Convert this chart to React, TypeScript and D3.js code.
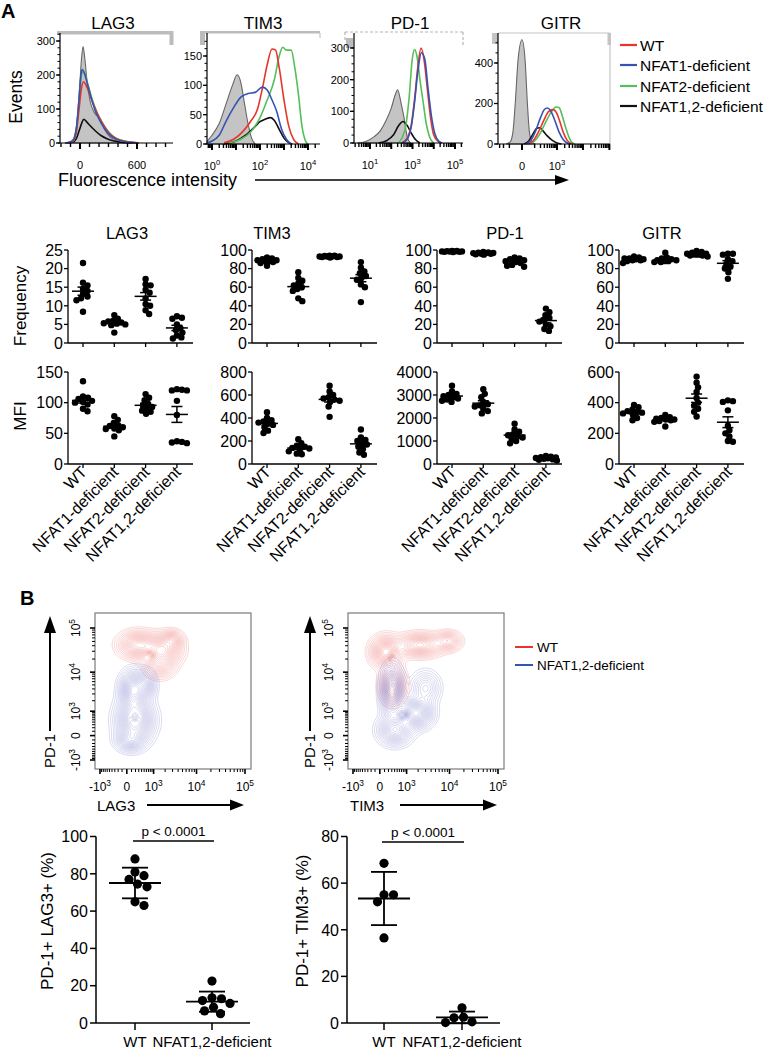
import React from 'react';
import * as d3 from 'd3';

const FONT = '"Liberation Sans", Arial, Helvetica, sans-serif';

// ---------------- categories ----------------
const GROUPS = ['WT', 'NFAT1-deficient', 'NFAT2-deficient', 'NFAT1,2-deficient'];
const GROUP_COLORS = ['#e8352b', '#3553b3', '#55bf5a', '#111111'];
const MARKERS = ['LAG3', 'TIM3', 'PD-1', 'GITR'];
const GROUPS_B = ['WT', 'NFAT1,2-deficient'];

// ---------------- Panel A histograms: [x, events] ----------------
// order: isotype(grey), WT, NFAT1, NFAT2, NFAT1,2
const LAG3_HIST = [
  [[-160, 0], [-110, 3], [-70, 12], [-35, 55], [-5, 160], [15, 245], [32, 284], [50, 250], [75, 180], [105, 125], [150, 90], [210, 72], [260, 40], [316, 18], [400, 5], [480, 0]],
  [[-150, 0], [-80, 4], [-40, 30], [-10, 100], [15, 160], [35, 180], [60, 172], [90, 152], [130, 122], [180, 88], [240, 56], [310, 28], [390, 12], [490, 4], [620, 0]],
  [[-150, 0], [-80, 5], [-40, 40], [-10, 130], [10, 200], [25, 216], [45, 206], [70, 182], [110, 140], [160, 95], [220, 60], [290, 30], [370, 12], [470, 4], [600, 0]],
  [[-150, 0], [-80, 4], [-40, 35], [-10, 120], [10, 190], [30, 210], [50, 205], [80, 176], [120, 136], [170, 96], [230, 62], [300, 33], [380, 14], [480, 5], [620, 0]],
  [[-150, 0], [-80, 2], [-40, 12], [-10, 35], [20, 60], [40, 70], [70, 62], [110, 50], [160, 36], [220, 22], [290, 12], [370, 5], [470, 1], [560, 0]],
];
// x in log10 units
const TIM3_HIST = [
  [[-0.2, 5], [0, 15], [0.3, 35], [0.6, 70], [0.85, 100], [1.05, 118], [1.2, 105], [1.35, 70], [1.5, 35], [1.65, 10], [1.8, 0]],
  [[0.5, 2], [0.9, 8], [1.3, 22], [1.6, 38], [1.9, 60], [2.1, 95], [2.3, 135], [2.5, 162], [2.65, 160], [2.8, 130], [3.0, 75], [3.2, 30], [3.4, 8], [3.6, 0]],
  [[-0.2, 2], [0, 5], [0.3, 15], [0.6, 40], [0.9, 62], [1.2, 80], [1.5, 86], [1.8, 88], [2.1, 97], [2.3, 92], [2.5, 75], [2.7, 55], [2.9, 25], [3.1, 8], [3.3, 0]],
  [[0.7, 2], [1.2, 8], [1.6, 20], [2.0, 45], [2.3, 75], [2.6, 110], [2.8, 150], [2.95, 165], [3.1, 160], [3.3, 160], [3.45, 130], [3.6, 85], [3.75, 30], [3.9, 5], [4.0, 0]],
  [[0.5, 0], [1.0, 5], [1.4, 15], [1.8, 30], [2.0, 38], [2.2, 42], [2.45, 45], [2.6, 40], [2.8, 25], [3.0, 10], [3.2, 2], [3.35, 0]],
];
const PD1_HIST = [
  [[0.4, 0], [0.8, 5], [1.2, 20], [1.5, 40], [1.75, 70], [2.0, 110], [2.2, 155], [2.3, 168], [2.45, 130], [2.6, 80], [2.75, 20], [2.9, 0]],
  [[2.5, 0], [2.75, 15], [2.95, 60], [3.1, 140], [3.25, 240], [3.4, 300], [3.55, 260], [3.7, 170], [3.85, 80], [4.0, 25], [4.2, 5], [4.35, 0]],
  [[2.5, 0], [2.75, 12], [2.95, 55], [3.1, 130], [3.25, 225], [3.42, 285], [3.58, 265], [3.72, 180], [3.88, 90], [4.05, 30], [4.25, 5], [4.4, 0]],
  [[2.3, 0], [2.5, 15], [2.7, 60], [2.85, 150], [2.98, 260], [3.1, 295], [3.22, 270], [3.35, 200], [3.5, 130], [3.65, 60], [3.8, 20], [4.0, 0]],
  [[1.4, 0], [1.8, 8], [2.1, 25], [2.35, 55], [2.55, 68], [2.75, 55], [2.95, 30], [3.15, 10], [3.35, 0]],
];
const GITR_HIST = [
  [[-150, 0], [-90, 10], [-60, 60], [-40, 200], [-20, 420], [0, 515], [15, 420], [30, 200], [45, 60], [70, 10], [110, 0]],
  [[30, 0], [80, 15], [160, 60], [280, 115], [450, 160], [700, 170], [950, 155], [1300, 110], [1800, 55], [2500, 18], [3500, 3], [4200, 0]],
  [[20, 0], [60, 20], [120, 70], [200, 130], [300, 170], [400, 178], [550, 165], [800, 120], [1200, 60], [1800, 20], [2800, 3], [3500, 0]],
  [[40, 0], [100, 15], [200, 55], [350, 110], [600, 160], [900, 183], [1200, 180], [1600, 140], [2200, 80], [3000, 30], [4000, 5], [5000, 0]],
  [[10, 0], [40, 15], [80, 50], [130, 78], [180, 80], [260, 65], [400, 40], [650, 18], [1000, 5], [1500, 0]],
];

// ---------------- Panel A dot plots ----------------
const LAG3_FREQ = [
  [21.5, 16.2, 15.5, 14.5, 14, 13.2, 12.5, 12, 11.5, 8.4],
  [7.5, 6.5, 6, 5.8, 5.5, 5.3, 5.2, 5, 4.8, 2.8],
  [17.2, 15.8, 15.5, 14.3, 13.5, 12, 10.5, 10, 8.8, 7.8],
  [7.2, 6.8, 6.5, 5, 4, 3.5, 2.8, 2, 1.5, 1.2],
];
const TIM3_FREQ = [
  [92, 91, 90, 89, 89, 88, 88, 87, 86, 83],
  [76, 70, 67, 64, 62, 60, 58, 56, 48, 45],
  [94, 94, 93.5, 93, 93, 93, 93, 92.5, 92.5, 92],
  [87, 81, 77, 75, 72, 70, 68, 63, 60, 44],
];
const PD1_FREQ = [
  [99, 99, 98.8, 98.5, 98.5, 98.5, 98.3, 98, 98, 97.8],
  [98, 97.5, 97, 96.8, 96.5, 96.5, 96, 96, 95.5, 95],
  [92, 91, 90, 89, 88, 87, 86, 84, 83, 82],
  [37, 33, 30, 27, 25, 23, 20, 18, 15, 13],
];
const GITR_FREQ = [
  [93, 92, 91, 91, 90, 90, 89, 89, 88, 86],
  [97, 92, 91, 90, 89, 89, 88, 88, 87, 87],
  [99, 98, 97, 96, 96, 95, 95, 94, 94, 93],
  [96, 96, 95, 90, 88, 85, 82, 80, 76, 69],
];
const LAG3_MFI = [
  [135, 110, 108, 106, 103, 101, 100, 97, 90, 86],
  [78, 72, 67, 63, 62, 60, 58, 57, 55, 45],
  [114, 108, 104, 98, 96, 93, 90, 87, 85, 82],
  [122, 121, 120, 120, 103, 80, 37, 36, 35, 34],
];
const TIM3_MFI = [
  [450, 400, 380, 370, 360, 350, 340, 320, 290, 270],
  [215, 180, 160, 150, 140, 135, 125, 110, 90, 85],
  [680, 630, 600, 580, 570, 560, 550, 540, 500, 410],
  [300, 230, 210, 200, 180, 170, 150, 130, 100, 80],
];
const PD1_MFI = [
  [3400, 3150, 3050, 3000, 2950, 2900, 2850, 2800, 2750, 2700],
  [3250, 3050, 2900, 2700, 2600, 2550, 2500, 2400, 2300, 2200],
  [1750, 1500, 1400, 1300, 1250, 1200, 1150, 1100, 1000, 900],
  [350, 320, 300, 280, 260, 250, 230, 200, 180, 150],
];
const GITR_MFI = [
  [385, 370, 355, 345, 340, 335, 330, 320, 300, 285],
  [320, 305, 300, 295, 290, 290, 285, 280, 275, 245],
  [570, 530, 500, 470, 430, 400, 380, 360, 340, 310],
  [415, 410, 405, 350, 220, 250, 200, 180, 150, 145],
];
const FREQ_TICKS = [[0, 5, 10, 15, 20, 25], [0, 20, 40, 60, 80, 100], [0, 20, 40, 60, 80, 100], [0, 20, 40, 60, 80, 100]];
const MFI_TICKS = [[0, 50, 100, 150], [0, 200, 400, 600, 800], [0, 1000, 2000, 3000, 4000], [0, 200, 400, 600]];

// ---------------- Panel B flow populations: [marker value, PD-1 value, spreadX, spreadY (symlog units), weight] ----------------
const LAG3_WT_POP = [
  [275, 41600, 0.47, 0.36, 0.9],
  [1674, 32100, 0.47, 0.41, 1.0],
  [2909, 53900, 0.28, 0.26, 0.5],
  [1488, 14600, 0.38, 0.36, 0.5],
  [784, 24700, 0.13, 0.13, -0.35],
];
const LAG3_KO_POP = [
  [135, 3760, 0.33, 0.51, 0.9],
  [187, 491, 0.47, 0.62, 1.0],
  [537, 4980, 0.28, 0.41, 0.5],
  [65, -101, 0.37, 0.31, 0.5],
  [187, 640, 0.12, 0.15, -0.35],
];
const TIM3_WT_POP = [
  [135, 28900, 0.37, 0.41, 1.0],
  [2220, 41600, 0.56, 0.31, 0.8],
  [9300, 51200, 0.33, 0.26, 0.5],
  [341, 4980, 0.33, 0.51, 0.55],
  [307, 21100, 0.12, 0.14, -0.4],
];
const TIM3_KO_POP = [
  [307, 3360, 0.28, 0.67, 1.0],
  [1772, 877, 0.42, 0.41, 0.9],
  [414, 134, 0.42, 0.41, 0.7],
  [3000, 4210, 0.37, 0.46, 0.35],
  [784, 752, 0.14, 0.14, -0.35],
];

// ---------------- Panel B dot plots ----------------
const B_LAG3 = [[88, 81, 79, 77, 74.5, 73, 65, 63], [22.5, 13.5, 13, 12, 10.5, 8.5, 6.5, 5]];
const B_TIM3 = [[68.5, 55, 55, 52, 36.5], [6.5, 2.5, 2.2, 0.5, 0.2]];
const B_LAG3_TICKS = [0, 20, 40, 60, 80, 100];
const B_TIM3_TICKS = [0, 20, 40, 60, 80];
const P_TEXT = 'p < 0.0001';

// ---------------- helpers ----------------
function beeswarm(ys: number[], minDist: number, maxOff: number): number[] {
  const order = ys.map((_, i) => i).sort((a, b) => ys[a] - ys[b]);
  const placed: [number, number][] = [];
  const out: number[] = new Array(ys.length).fill(0);
  const cands: number[] = [0];
  for (let k = 1; k * 0.5 <= maxOff; k++) cands.push(k * 0.5, -k * 0.5);
  for (const i of order) {
    const y = ys[i];
    let chosen: number | null = null;
    let bestC = 0, bestD = -1;
    for (const c of cands) {
      let md = Infinity;
      for (const [px, py] of placed) {
        const d = Math.hypot(px - c, py - y);
        if (d < md) md = d;
      }
      if (md >= minDist) { chosen = c; break; }
      if (md > bestD) { bestD = md; bestC = c; }
    }
    const x = chosen === null ? bestC : chosen;
    placed.push([x, y]);
    out[i] = x;
  }
  return out;
}

function Pow({ x, y, main, sup, size, anchor = 'middle', transform }: any) {
  return (
    <text x={x} y={y} fontSize={size} textAnchor={anchor} transform={transform}>
      {main}
      {sup ? <tspan dy={-size * 0.45} fontSize={size * 0.7}>{sup}</tspan> : null}
    </text>
  );
}

// ---------------- Histogram ----------------
function Histogram({ s }: any) {
  const { x, y, left, right, top, bottom } = s;
  const line = d3.line<number[]>().x(d => x(d[0])).y(d => y(d[1])).curve(d3.curveMonotoneX);
  const area = d3.area<number[]>().x(d => x(d[0])).y0(bottom).y1(d => y(d[1])).curve(d3.curveMonotoneX);
  const [iso, ...rest] = s.curves;
  const order = [3, 2, 0, 1];
  return (
    <g>
      <text x={s.titleX} y={29} fontSize={17} textAnchor="middle">{s.title}</text>
      {s.frame}
      <path d={area(iso) || ''} fill="#c4c4c4" stroke="#666" strokeWidth={1.1} />
      {order.map(i => (
        <path key={i} d={line(rest[i]) || ''} fill="none" stroke={GROUP_COLORS[i]} strokeWidth={1.6} />
      ))}
      <line x1={left} x2={left} y1={top} y2={bottom} stroke="#000" strokeWidth={1.2} />
      {s.yMinor.map((v: number) => (
        <line key={'ym' + v} x1={left - 2.5} x2={left} y1={y(v)} y2={y(v)} stroke="#000" strokeWidth={1} />
      ))}
      {s.yTicks.map((v: number) => (
        <g key={'y' + v}>
          <line x1={left - 4} x2={left} y1={y(v)} y2={y(v)} stroke="#000" strokeWidth={1.3} />
          <text x={left - 5} y={y(v)} dy="0.35em" fontSize={11} textAnchor="end">{v}</text>
        </g>
      ))}
      <line x1={left} x2={right} y1={bottom} y2={bottom} stroke="#000" strokeWidth={1.2} />
      {s.xMinor.map((v: number, i: number) => (
        <line key={'xm' + i} x1={x(v)} x2={x(v)} y1={bottom} y2={bottom + 4} stroke="#000" strokeWidth={1.4} />
      ))}
      {s.xMajor.map((v: number, i: number) => (
        <line key={'xM' + i} x1={x(v)} x2={x(v)} y1={bottom} y2={bottom + 6} stroke="#000" strokeWidth={2} />
      ))}
      {s.xLabels.map((l: any, i: number) => (
        <Pow key={'xl' + i} x={x(l.v)} y={bottom + 26} main={l.main} sup={l.sup} size={11} />
      ))}
    </g>
  );
}

const logMinors = (lo: number, hi: number) => {
  const out: number[] = [];
  for (let k = Math.floor(lo) - 1; k <= hi; k++) {
    for (let m = 2; m <= 9; m++) {
      const v = k + Math.log10(m);
      if (v >= lo && v <= hi) out.push(v);
    }
  }
  return out;
};

const HISTS = [
  {
    title: 'LAG3', titleX: 113, left: 60, right: 173, top: 33, bottom: 143,
    x: d3.scaleLinear().domain([0, 600]).range([80, 137]),
    y: d3.scaleLinear().domain([0, 300]).range([143, 41]),
    yTicks: [0, 100, 200, 300], yMinor: d3.range(0, 321, 20),
    xMajor: [0, 600], xMinor: d3.range(-200, 901, 100),
    xLabels: [{ v: 0, main: '0' }, { v: 600, main: '600' }],
    curves: LAG3_HIST,
    frame: (
      <g>
        <rect x={57} y={31} width={116} height={3.5} fill="#bcbcbc" />
        <rect x={169.5} y={31} width={4} height={14} fill="#bcbcbc" />
      </g>
    ),
  },
  {
    title: 'TIM3', titleX: 263, left: 207, right: 320, top: 33, bottom: 144,
    x: d3.scaleLinear().domain([0, 4]).range([212, 308]),
    y: d3.scaleLinear().domain([0, 150]).range([144, 56]),
    yTicks: [0, 50, 100, 150], yMinor: d3.range(0, 176, 12.5),
    xMajor: [0, 1, 2, 3, 4], xMinor: logMinors(-0.2, 4.45),
    xLabels: [{ v: 0, main: '10', sup: '0' }, { v: 2, main: '10', sup: '2' }, { v: 4, main: '10', sup: '4' }],
    curves: TIM3_HIST,
    frame: (
      <g>
        <rect x={200} y={31} width={120} height={2.5} fill="#bcbcbc" />
        <rect x={200} y={31} width={5} height={14} fill="#bcbcbc" />
        <line x1={320} x2={320} y1={33} y2={38} stroke="#bbb" strokeWidth={1} />
      </g>
    ),
  },
  {
    title: 'PD-1', titleX: 410, left: 354, right: 463, top: 33, bottom: 143,
    x: d3.scaleLinear().domain([1, 5]).range([370, 455]),
    y: d3.scaleLinear().domain([0, 300]).range([143, 48]),
    yTicks: [0, 100, 200, 300], yMinor: d3.range(0, 321, 25),
    xMajor: [1, 2, 3, 4, 5], xMinor: logMinors(0.3, 5.35),
    xLabels: [{ v: 1, main: '10', sup: '1' }, { v: 3, main: '10', sup: '3' }, { v: 5, main: '10', sup: '5' }],
    curves: PD1_HIST,
    frame: (
      <g>
        <line x1={345} x2={463} y1={32} y2={32} stroke="#b5b5b5" strokeWidth={1.2} strokeDasharray="3,2" />
        <line x1={463} x2={463} y1={32} y2={46} stroke="#b5b5b5" strokeWidth={1.2} strokeDasharray="3,2" />
        <line x1={345} x2={345} y1={32} y2={40} stroke="#b5b5b5" strokeWidth={1.2} strokeDasharray="3,2" />
        <rect x={346} y={38} width={7} height={10} fill="#bcbcbc" />
      </g>
    ),
  },
  {
    title: 'GITR', titleX: 561, left: 498, right: 610, top: 33, bottom: 144,
    x: d3.scaleSymlog().constant(50).domain([0, 1000]).range([522, 557]),
    y: d3.scaleLinear().domain([0, 400]).range([144, 63]),
    yTicks: [0, 200, 400], yMinor: d3.range(0, 501, 50),
    xMajor: [0, 1000, 10000, 100000],
    xMinor: [-300, -200, -100, ...d3.range(100, 1000, 100), ...d3.range(2000, 10000, 1000), ...d3.range(20000, 100000, 10000)],
    xLabels: [{ v: 0, main: '0' }, { v: 1000, main: '10', sup: '3' }],
    curves: GITR_HIST,
    frame: (
      <g>
        <line x1={498} x2={610} y1={33} y2={33} stroke="#c4c4c4" strokeWidth={1.2} />
        <line x1={610} x2={610} y1={33} y2={144} stroke="#c4c4c4" strokeWidth={1.2} />
        <rect x={492} y={33} width={6} height={11} fill="#c4c4c4" />
        <rect x={607.5} y={33} width={3.5} height={12} fill="#c4c4c4" />
      </g>
    ),
  },
];

// ---------------- Dot plot (panel A) ----------------
const A_LEFTS = [68, 252, 437, 619];
const A_WIDTH = 125;
const A_TITLE_X = [127, 272, 505, 662];

function DotPanel({ left, yRange, ticks, data, showLabels }: any) {
  const y = d3.scaleLinear().domain([0, ticks[ticks.length - 1]]).range(yRange);
  const cx = (i: number) => left + 15 + i * 31.3;
  const r = 3.2;
  return (
    <g>
      <line x1={left} x2={left} y1={yRange[0]} y2={yRange[1]} stroke="#000" strokeWidth={1.3} />
      <line x1={left} x2={left + A_WIDTH} y1={yRange[0]} y2={yRange[0]} stroke="#000" strokeWidth={1.3} />
      {ticks.map((t: number) => (
        <g key={t}>
          <line x1={left - 4} x2={left} y1={y(t)} y2={y(t)} stroke="#000" strokeWidth={1.3} />
          <text x={left - 5} y={y(t)} dy="0.36em" fontSize={16} textAnchor="end">{t}</text>
        </g>
      ))}
      {data.map((vals: number[], i: number) => {
        const ys = vals.map(v => y(v));
        const off = beeswarm(ys, r * 1.5, 11);
        const m = d3.mean(vals) as number;
        const sem = (d3.deviation(vals) as number) / Math.sqrt(vals.length);
        const c = cx(i);
        return (
          <g key={i}>
            <line x1={c} x2={c} y1={yRange[0]} y2={yRange[0] + 4} stroke="#000" strokeWidth={1.3} />
            {vals.map((v, k) => <circle key={k} cx={c + off[k]} cy={ys[k]} r={r} fill="#000" />)}
            <line x1={c - 11} x2={c + 11} y1={y(m)} y2={y(m)} stroke="#000" strokeWidth={1.5} />
            <line x1={c} x2={c} y1={y(m - sem)} y2={y(m + sem)} stroke="#000" strokeWidth={1.5} />
            <line x1={c - 5.5} x2={c + 5.5} y1={y(m + sem)} y2={y(m + sem)} stroke="#000" strokeWidth={1.5} />
            <line x1={c - 5.5} x2={c + 5.5} y1={y(m - sem)} y2={y(m - sem)} stroke="#000" strokeWidth={1.5} />
            {showLabels ? (
              <text transform={`translate(${c + 5},${yRange[0] + 9}) rotate(-45)`} fontSize={16} textAnchor="end">
                {GROUPS[i]}
              </text>
            ) : null}
          </g>
        );
      })}
    </g>
  );
}

// ---------------- Flow contour plot (panel B) ----------------
function FlowPlot({ ox, xLabel, wt, ko }: any) {
  const xS = d3.scaleSymlog().constant(400).domain([-1000, 1e5]).range([100 + ox, 245 + ox]);
  const yS = d3.scaleSymlog().constant(400).domain([-1000, 1e5]).range([760, 628]);
  const x0 = 95 + ox, x1 = 251 + ox, y0 = 613, y1 = 769;
  const w = x1 - x0, h = y1 - y0;
  const T = (v: number) => Math.sign(v) * Math.log1p(Math.abs(v) / 400);
  const pptX = 145 / (T(1e5) - T(-1000));
  const pptY = 132 / (T(1e5) - T(-1000));
  const contoursFor = (pop: number[][]) => {
    const bl = pop.map(([vx, vy, sx, sy, wg]) => ({ cx: xS(vx) - x0, cy: yS(vy) - y0, sx: sx * pptX, sy: sy * pptY, w: wg }));
    const vals = new Array(w * h);
    for (let j = 0; j < h; j++) {
      for (let i = 0; i < w; i++) {
        let s = 0;
        for (const b of bl) {
          const dx = (i + 0.5 - b.cx) / b.sx, dy = (j + 0.5 - b.cy) / b.sy;
          s += b.w * Math.exp(-0.5 * (dx * dx + dy * dy));
        }
        vals[j * w + i] = Math.max(0, s);
      }
    }
    const mx = d3.max(vals) as number;
    const lv = d3.range(0, 20).map(k => mx * (0.03 + 0.9 * Math.pow(k / 19, 1.25)));
    return d3.contours().size([w, h]).thresholds(lv)(vals);
  };
  const gp = d3.geoPath();
  const red = contoursFor(wt);
  const blue = contoursFor(ko);
  const majors = [-1000, 0, 1e3, 1e4, 1e5];
  const minors = [...d3.range(-900, 0, 100), ...d3.range(100, 1000, 100), ...d3.range(2000, 10000, 1000), ...d3.range(20000, 100000, 10000)];
  const labels = [
    { v: -1000, main: '-10', sup: '3' },
    { v: 0, main: '0' },
    { v: 1000, main: '10', sup: '3' },
    { v: 10000, main: '10', sup: '4' },
    { v: 100000, main: '10', sup: '5' },
  ];
  const ax = 50 + (ox ? 260 : 0);
  return (
    <g>
      <g transform={`translate(${x0},${y0})`}>
        {red.map((c, k) => <path key={'r' + k} d={gp(c as any) || ''} fill="none" stroke="#ee6e6a" strokeOpacity={0.55} strokeWidth={0.5} />)}
        {blue.map((c, k) => <path key={'b' + k} d={gp(c as any) || ''} fill="none" stroke="#6e70c8" strokeOpacity={0.5} strokeWidth={0.5} />)}
      </g>
      <rect x={x0} y={y0} width={w} height={h} fill="none" stroke="#7a7a7a" strokeWidth={1.2} />
      {minors.map((v, i) => (
        <g key={'m' + i}>
          <line x1={xS(v)} x2={xS(v)} y1={y1} y2={y1 + 3} stroke="#000" strokeWidth={1} />
          <line x1={x0 - 3} x2={x0} y1={yS(v)} y2={yS(v)} stroke="#000" strokeWidth={1} />
        </g>
      ))}
      {majors.map((v, i) => (
        <g key={'M' + i}>
          <line x1={xS(v)} x2={xS(v)} y1={y1} y2={y1 + 5} stroke="#000" strokeWidth={1.6} />
          <line x1={x0 - 5} x2={x0} y1={yS(v)} y2={yS(v)} stroke="#000" strokeWidth={1.6} />
        </g>
      ))}
      {labels.map((l, i) => (
        <g key={'l' + i}>
          <Pow x={xS(l.v)} y={791} main={l.main} sup={l.sup} size={12} />
          <Pow x={0} y={0} main={l.main} sup={l.sup} size={12} transform={`translate(${x0 - 15},${yS(l.v)}) rotate(-90)`} />
        </g>
      ))}
      <line x1={ax} x2={ax} y1={731} y2={630} stroke="#000" strokeWidth={2} />
      <polygon points={`${ax},616 ${ax - 6},633 ${ax + 6},633`} fill="#000" />
      <text transform={`translate(${ax + 5},751) rotate(-90)`} fontSize={15} textAnchor="middle">PD-1</text>
      <text x={97 + ox} y={811} fontSize={15}>{xLabel}</text>
      <line x1={147 + ox} x2={232 + ox} y1={805} y2={805} stroke="#000" strokeWidth={2} />
      <polygon points={`${244 + ox},805 ${230 + ox},799.5 ${230 + ox},810.5`} fill="#000" />
    </g>
  );
}

// ---------------- Panel B dot plot ----------------
function BDots({ left, right, ticks, data, cats, ylabel, ylabelX, pY }: any) {
  const y = d3.scaleLinear().domain([0, ticks[ticks.length - 1]]).range([1023, 836.5]);
  const r = 4.6;
  return (
    <g>
      <line x1={left} x2={left} y1={1023} y2={836.5} stroke="#000" strokeWidth={1.5} />
      <line x1={left} x2={right} y1={1023} y2={1023} stroke="#000" strokeWidth={1.5} />
      {ticks.map((t: number) => (
        <g key={t}>
          <line x1={left - 6} x2={left} y1={y(t)} y2={y(t)} stroke="#000" strokeWidth={1.5} />
          <text x={left - 8} y={y(t)} dy="0.36em" fontSize={16} textAnchor="end">{t}</text>
        </g>
      ))}
      <text transform={`translate(${ylabelX},921) rotate(-90)`} fontSize={17} textAnchor="middle" dy="0.35em">{ylabel}</text>
      {data.map((vals: number[], i: number) => {
        const c = cats[i];
        const ys = vals.map(v => y(v));
        const off = beeswarm(ys, r * 2.05, 24);
        const m = d3.mean(vals) as number;
        const sd = d3.deviation(vals) as number;
        return (
          <g key={i}>
            <line x1={c} x2={c} y1={1023} y2={1030} stroke="#000" strokeWidth={1.5} />
            <text x={c} y={1047} fontSize={15} textAnchor="middle">{GROUPS_B[i]}</text>
            {vals.map((v, k) => <circle key={k} cx={c + off[k]} cy={ys[k]} r={r} fill="#000" />)}
            <line x1={c - 26} x2={c + 26} y1={y(m)} y2={y(m)} stroke="#000" strokeWidth={1.8} />
            <line x1={c} x2={c} y1={y(Math.max(0, m - sd))} y2={y(m + sd)} stroke="#000" strokeWidth={1.8} />
            <line x1={c - 13} x2={c + 13} y1={y(m + sd)} y2={y(m + sd)} stroke="#000" strokeWidth={1.8} />
            <line x1={c - 13} x2={c + 13} y1={y(m - sd)} y2={y(m - sd)} stroke="#000" strokeWidth={1.8} />
          </g>
        );
      })}
      <line x1={cats[0] - 2} x2={cats[1] + 2} y1={pY} y2={pY} stroke="#000" strokeWidth={1.3} />
      <text x={(cats[0] + cats[1]) / 2} y={pY - 5} fontSize={13.5} textAnchor="middle">{P_TEXT}</text>
    </g>
  );
}

export default function App() {
  const FREQ = [LAG3_FREQ, TIM3_FREQ, PD1_FREQ, GITR_FREQ];
  const MFI = [LAG3_MFI, TIM3_MFI, PD1_MFI, GITR_MFI];
  const legendA = [45, 65, 86, 106];
  return (
    <svg width={765} height={1050} style={{ position: 'absolute', left: 0, top: 0, background: '#fff' }} fontFamily={FONT}>
      <rect width={765} height={1050} fill="#fff" />
      <text x={1} y={18} fontSize={20} fontWeight="bold">A</text>
      {HISTS.map(s => <Histogram key={s.title} s={s} />)}
      <text transform="translate(16,97) rotate(-90)" fontSize={17.5} textAnchor="middle" dy="0.35em">Events</text>
      <text x={58} y={186} fontSize={18}>Fluorescence intensity</text>
      <line x1={255} x2={556} y1={180} y2={180} stroke="#000" strokeWidth={1.6} />
      <polygon points="569,180 555,175 555,185" fill="#000" />
      {GROUPS.map((g, i) => (
        <g key={g}>
          <line x1={620} x2={637} y1={legendA[i]} y2={legendA[i]} stroke={GROUP_COLORS[i]} strokeWidth={2.2} />
          <text x={640} y={legendA[i]} dy="0.36em" fontSize={15.5}>{g}</text>
        </g>
      ))}

      {MARKERS.map((m, i) => (
        <g key={m}>
          <text x={A_TITLE_X[i]} y={239} fontSize={16.5} textAnchor="middle">{m}</text>
          <DotPanel left={A_LEFTS[i]} yRange={[343, 250]} ticks={FREQ_TICKS[i]} data={FREQ[i]} showLabels={false} />
          <DotPanel left={A_LEFTS[i]} yRange={[464, 372]} ticks={MFI_TICKS[i]} data={MFI[i]} showLabels={true} />
        </g>
      ))}
      <text transform="translate(20,306) rotate(-90)" fontSize={17} textAnchor="middle" dy="0.35em">Frequency</text>
      <text transform="translate(20,416) rotate(-90)" fontSize={17} textAnchor="middle" dy="0.35em">MFI</text>

      <text x={20} y={605} fontSize={20} fontWeight="bold">B</text>
      <FlowPlot ox={0} xLabel="LAG3" wt={LAG3_WT_POP} ko={LAG3_KO_POP} />
      <FlowPlot ox={253} xLabel="TIM3" wt={TIM3_WT_POP} ko={TIM3_KO_POP} />
      {[GROUPS_B[0], GROUPS_B[1]].map((g, i) => (
        <g key={g}>
          <line x1={515} x2={533} y1={647 + i * 18} y2={647 + i * 18} stroke={i === 0 ? GROUP_COLORS[0] : GROUP_COLORS[1]} strokeWidth={2} />
          <text x={537} y={647 + i * 18} dy="0.36em" fontSize={13.5}>{g}</text>
        </g>
      ))}
      <BDots left={96} right={250} ticks={B_LAG3_TICKS} data={B_LAG3} cats={[135, 212]} ylabel="PD-1+ LAG3+ (%)" ylabelX={47} pY={841} />
      <BDots left={347} right={500} ticks={B_TIM3_TICKS} data={B_TIM3} cats={[384, 462]} ylabel="PD-1+ TIM3+ (%)" ylabelX={302} pY={842} />
    </svg>
  );
}
